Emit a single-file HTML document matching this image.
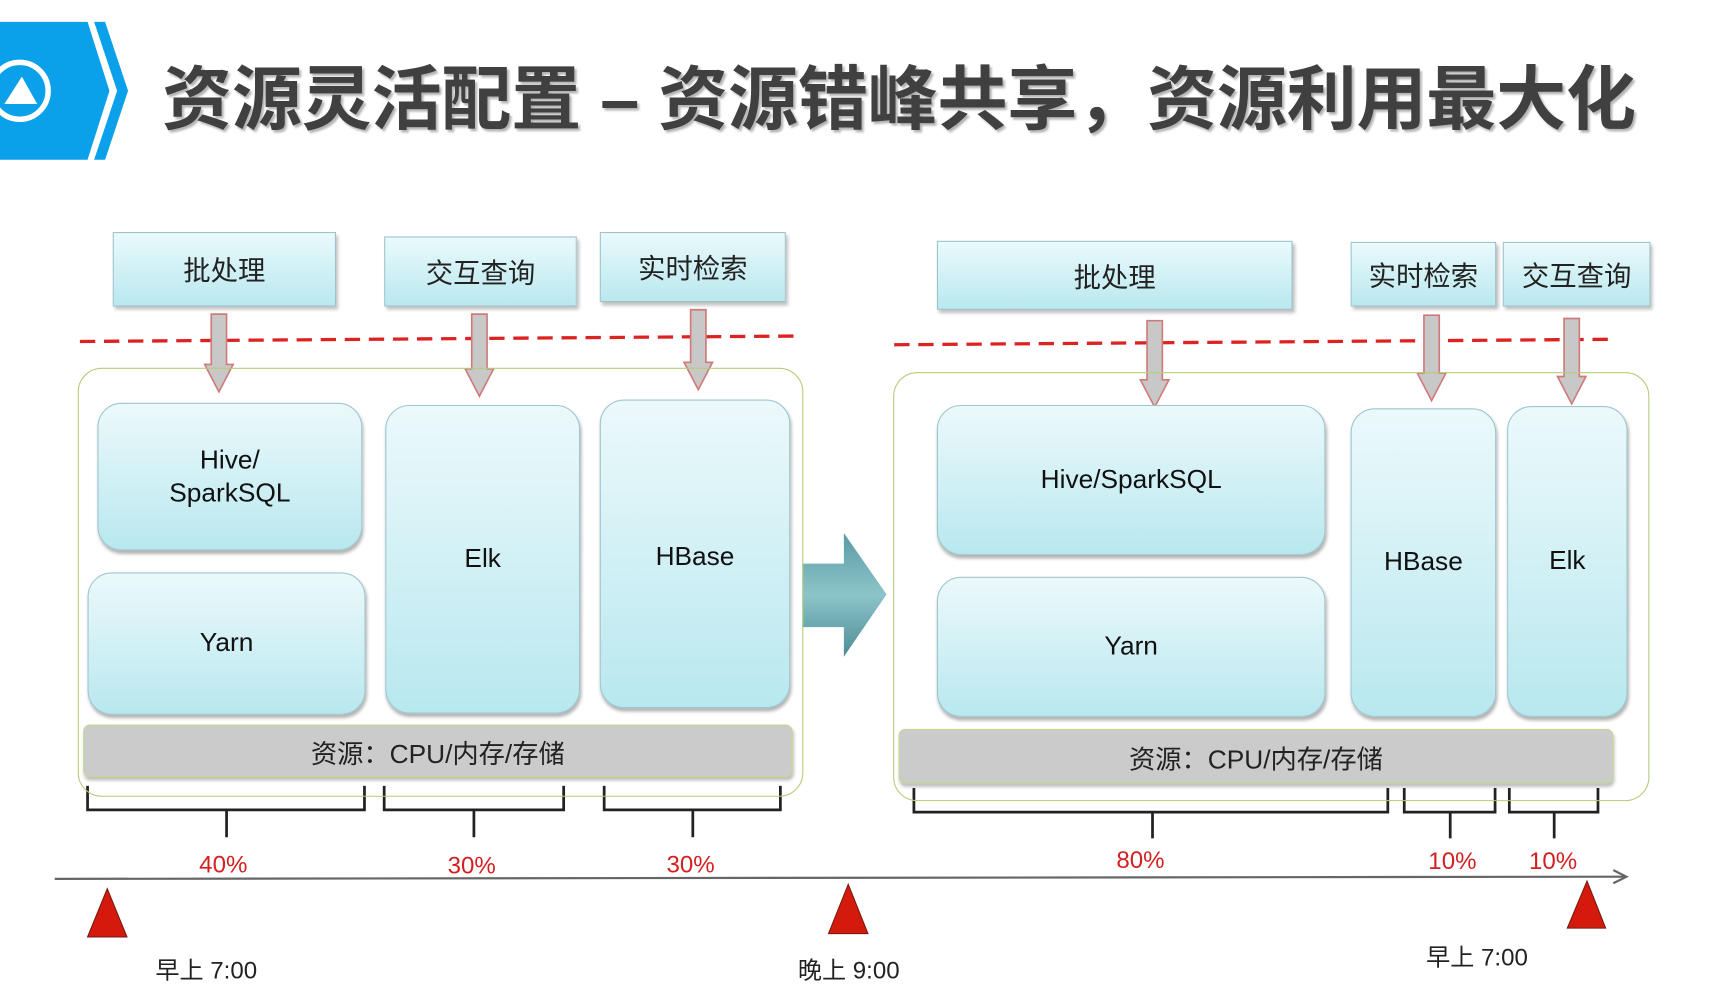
<!DOCTYPE html>
<html><head><meta charset="utf-8"><style>
html,body{margin:0;padding:0;background:#fff;width:1715px;height:994px;overflow:hidden}
#c{position:absolute;left:0;top:0;width:1553px;height:900px;transform:scale(1.0945);transform-origin:0 0;font-family:"Liberation Sans","Noto Sans CJK SC",sans-serif}
.a{position:absolute;box-sizing:border-box}
.tb{background:linear-gradient(#eafafc,#b9e8ef);border:1.5px solid #9cc3cc;box-shadow:2px 3px 3px rgba(0,0,0,.25);display:flex;align-items:center;justify-content:center;font-size:25px;color:#222}
.rb{background:linear-gradient(#ecf9fb,#b8e8ef);border:1.5px solid #9cc6cf;border-radius:22px;box-shadow:1px 3px 3px rgba(0,0,0,.3);display:flex;align-items:center;justify-content:center;font-size:24px;color:#111;text-align:center;line-height:30px}
.og{border:1.5px solid #b5cc7a;border-radius:22px}
.rs{background:#cbcbcb;border:1.5px solid #c4d890;border-radius:6px;box-shadow:1px 3px 3px rgba(0,0,0,.25);display:flex;align-items:center;justify-content:center;font-size:24px;color:#222}
.pct{position:absolute;color:#d42020;font-size:22px;transform:translateX(-50%)}
.lbl{position:absolute;color:#222;font-size:22px}
</style></head><body><div id="c">
<svg class="a" style="left:0;top:0" width="1553" height="900">
<polygon points="0,20 80,20 100,83 80,146 0,146" fill="#0aa0ea"/>
<polygon points="86,20 96,20 117,83 96,146 86,146 107,83" fill="#0aa0ea"/>
<circle cx="18" cy="83" r="26" fill="none" stroke="#fff" stroke-width="5"/>
<polygon points="4,95 20,70 34,95" fill="#fff"/>
<g stroke="#dd2222" stroke-width="3" stroke-dasharray="14 8">
<line x1="73" y1="312" x2="731" y2="307"/>
<line x1="817" y1="315" x2="1473" y2="310"/>
</g>
<g fill="#c8c8c8" stroke="#d07a7a" stroke-width="1.5">
<polygon points="193,287 207,287 207,333 213,333 200,358 187,333 193,333"/>
<polygon points="431,287 445,287 445,337 451,337 438,362 425,337 431,337"/>
<polygon points="631,283 645,283 645,331 651,331 638,356 625,331 631,331"/>
<polygon points="1048,293 1062,293 1062,347 1068,347 1055,372 1042,347 1048,347"/>
<polygon points="1301,288 1315,288 1315,341 1321,341 1308,366 1295,341 1301,341"/>
<polygon points="1429,291 1443,291 1443,344 1449,344 1436,369 1423,344 1429,344"/>
</g>
<defs><linearGradient id="ga" x1="0" y1="0" x2="0" y2="1"><stop offset="0" stop-color="#5a9ba3"/><stop offset=".5" stop-color="#8cc4c9"/><stop offset="1" stop-color="#4e8d96"/></linearGradient></defs>
<polygon points="733,515 771,515 771,487 810,543 771,600 771,573 733,573" fill="url(#ga)"/>
<g fill="none" stroke="#222" stroke-width="2.5">
<path d="M80,718 V740 H333 V718 M207,740 V765"/>
<path d="M351,718 V740 H515 V718 M433,740 V765"/>
<path d="M552,718 V740 H713 V718 M633,740 V765"/>
<path d="M835,720 V742 H1268 V720 M1053,742 V766"/>
<path d="M1283,720 V742 H1366 V720 M1325,742 V766"/>
<path d="M1379,720 V742 H1460 V720 M1420,742 V766"/>
</g>
<line x1="50" y1="803" x2="1484" y2="801" stroke="#666" stroke-width="2"/>
<polyline points="1474,795 1486,801 1474,807" fill="none" stroke="#666" stroke-width="2"/>
<g fill="#d41a0c" stroke="#7a1a10" stroke-width="1">
<polygon points="80,856 116,856 98,812"/>
<polygon points="757,853 793,853 775,808"/>
<polygon points="1432,848 1467,848 1450,805"/>
</g>
</svg>
<div class="a" style="left:148px;top:40px;font-size:64px;font-weight:bold;color:#404040;white-space:nowrap;text-shadow:2px 2px 2px rgba(0,0,0,.3);letter-spacing:-0.2px">资源灵活配置 – 资源错峰共享，资源利用最大化</div>

<div class="a tb" style="left:103px;top:212px;width:204px;height:68px">批处理</div>
<div class="a tb" style="left:351px;top:216px;width:176px;height:64px">交互查询</div>
<div class="a tb" style="left:548px;top:212px;width:170px;height:64px">实时检索</div>
<div class="a tb" style="left:856px;top:220px;width:325px;height:63px">批处理</div>
<div class="a tb" style="left:1234px;top:221px;width:133px;height:59px">实时检索</div>
<div class="a tb" style="left:1373px;top:221px;width:135px;height:59px">交互查询</div>

<div class="a og" style="left:71px;top:336px;width:663px;height:392px"></div>
<div class="a og" style="left:816px;top:340px;width:691px;height:392px"></div>

<div class="a rb" style="left:89px;top:368px;width:242px;height:135px">Hive/<br>SparkSQL</div>
<div class="a rb" style="left:80px;top:523px;width:254px;height:130px">Yarn</div>
<div class="a rb" style="left:352px;top:370px;width:178px;height:282px">Elk</div>
<div class="a rb" style="left:548px;top:365px;width:174px;height:282px;align-items:flex-start;padding-top:128px">HBase</div>
<div class="a rs" style="left:76px;top:662px;width:648px;height:48px">资源：CPU/内存/存储</div>

<div class="a rb" style="left:856px;top:370px;width:355px;height:137px">Hive/SparkSQL</div>
<div class="a rb" style="left:856px;top:527px;width:355px;height:128px">Yarn</div>
<div class="a rb" style="left:1234px;top:373px;width:133px;height:282px">HBase</div>
<div class="a rb" style="left:1377px;top:371px;width:110px;height:284px">Elk</div>
<div class="a rs" style="left:821px;top:666px;width:653px;height:50px">资源：CPU/内存/存储</div>

<div class="pct" style="left:204px;top:777px">40%</div>
<div class="pct" style="left:431px;top:778px">30%</div>
<div class="pct" style="left:631px;top:777px">30%</div>
<div class="pct" style="left:1042px;top:773px">80%</div>
<div class="pct" style="left:1327px;top:774px">10%</div>
<div class="pct" style="left:1419px;top:774px">10%</div>

<div class="lbl" style="left:142px;top:869px">早上 7:00</div>
<div class="lbl" style="left:729px;top:869px">晚上 9:00</div>
<div class="lbl" style="left:1303px;top:857px">早上 7:00</div>
</div></body></html>
